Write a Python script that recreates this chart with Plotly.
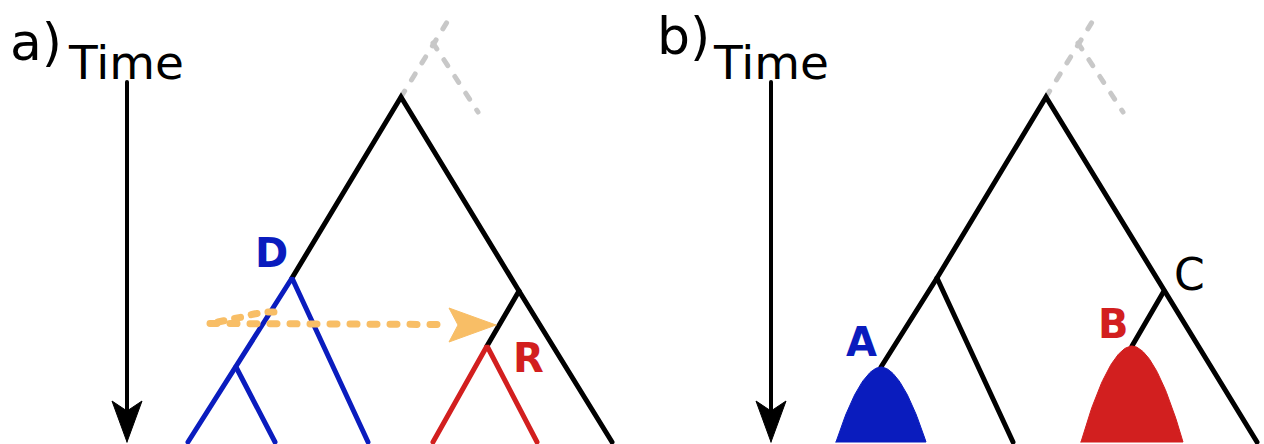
import numpy as np
import plotly.graph_objects as go

W, H = 1264, 444

# ---- tree geometry (panel a); x = horizontal position, t = time (downwards) ----
node_ids = ["root", "D", "Ds", "L1", "L2", "L3", "C", "R", "L4", "L5", "L6"]
node_x = [401, 292, 236, 188, 275, 368, 519, 487, 433, 537, 612]
node_t = [97, 278, 367, 442, 442, 442, 291, 346, 442, 442, 442]

# faded ancestry above the root
stem_a = ["root", (452, 14)]
stem_b = [(433, 43), (478, 112)]

# horizontal transfer from the donor lineage to the recipient branch
transfer_t = 323
transfer_x0, transfer_x1 = 210, 496
transfer_wiggle_x = [218, 230, 242, 254, 266, 277]
transfer_wiggle_t = [322, 320, 317, 314, 312, 312]

panel_offset = 645
clade_A_halfwidth, clade_B_halfwidth = 45, 51

BLACK = "#000000"
BLUE = "#0A1CBE"
RED = "#D21F1F"
ORANGE = "#F8BE66"
GREY = "#C8C8C8"
FONT = "DejaVu Sans"

pos = {n: (x, t) for n, x, t in zip(node_ids, node_x, node_t)}


def pt(p, dx=0):
    if isinstance(p, str):
        x, t = pos[p]
    else:
        x, t = p
    return x + dx, t


fig = go.Figure()


def path(nodes, color, width=5, dx=0, dash=None):
    xs, ys = zip(*[pt(n, dx) for n in nodes])
    fig.add_trace(go.Scatter(
        x=list(xs), y=list(ys), mode="lines",
        line=dict(color=color, width=width, dash=dash),
        hoverinfo="skip", showlegend=False))


def polygon(xs, ys, color):
    fig.add_trace(go.Scatter(
        x=list(xs), y=list(ys), mode="lines", fill="toself",
        fillcolor=color, line=dict(color=color, width=1),
        hoverinfo="skip", showlegend=False))


def time_arrow(x):
    path([(x, 82), (x, 412)], BLACK, width=4)
    polygon([x, x - 15, x, x + 15, x], [442, 401, 411, 401, 442], BLACK)


def clade(top, halfwidth, color, dx):
    cx, ct = pt(top, dx)
    u = np.linspace(-1, 1, 81)
    xs = cx + halfwidth * u
    ys = ct + (442 - ct) * np.abs(u) ** 1.85
    polygon(np.append(xs, xs[0]), np.append(ys, ys[0]), color)


# ---------------- panel a ----------------
grey_dash = "7px,13px"
path(stem_a, GREY, 5, dash=grey_dash)
path(stem_b, GREY, 5, dash=grey_dash)
path(["D", "root", "C", "L6"], BLACK)
path(["C", "R"], BLACK)
path(["L1", "Ds", "D", "L3"], BLUE)
path(["Ds", "L2"], BLUE)
path(["L4", "R", "L5"], RED)

# transfer arrow
path([(transfer_x0, transfer_t + 0.5), (transfer_x1 - 50, transfer_t + 1.5)],
     ORANGE, 7, dash="7px,13px")
path(list(zip(transfer_wiggle_x, transfer_wiggle_t)), ORANGE, 7, dash="6px,11px")
polygon([transfer_x1, transfer_x1 - 47, transfer_x1 - 38, transfer_x1 - 47, transfer_x1],
        [transfer_t + 2, transfer_t - 15, transfer_t + 2, transfer_t + 19, transfer_t + 2],
        ORANGE)

time_arrow(127)

# ---------------- panel b ----------------
dx = panel_offset
path(stem_a, GREY, 5, dx=dx, dash=grey_dash)
path(stem_b, GREY, 5, dx=dx, dash=grey_dash)
path(["Ds", "D", "root", "C", "L6"], BLACK, dx=dx)
path(["D", "L3"], BLACK, dx=dx)
path(["C", "R"], BLACK, dx=dx)
clade("Ds", clade_A_halfwidth, BLUE, dx)
clade("R", clade_B_halfwidth, RED, dx)

time_arrow(127 + dx - 1)

# ---------------- labels ----------------
labels = [
    ("a)", 8, 42, 52, BLACK, False, "left"),
    ("Time", 66, 62, 47, BLACK, False, "left"),
    ("b)", 655, 36, 52, BLACK, False, "left"),
    ("Time", 711, 62, 47, BLACK, False, "left"),
    ("D", 271, 253, 40, BLUE, True, "center"),
    ("R", 528, 358, 40, RED, True, "center"),
    ("A", 861, 342, 40, BLUE, True, "center"),
    ("B", 1113, 324, 40, RED, True, "center"),
    ("C", 1189, 274, 44, BLACK, False, "center"),
]
for text, x, y, size, color, bold, anchor in labels:
    fig.add_annotation(
        x=x, y=y, xref="x", yref="y", showarrow=False,
        text=f"<b>{text}</b>" if bold else text,
        xanchor=anchor, yanchor="middle",
        font=dict(family=FONT, size=size, color=color))

fig.update_layout(
    width=W, height=H,
    margin=dict(l=0, r=0, t=0, b=0),
    paper_bgcolor="white", plot_bgcolor="white",
    xaxis=dict(range=[0, W], visible=False, fixedrange=True),
    yaxis=dict(range=[H, 0], visible=False, fixedrange=True),
    showlegend=False,
)

round_caps = (
    "var gd=document.getElementById('{plot_id}');"
    "gd.querySelectorAll('path.js-line').forEach(function(p){"
    "p.style.strokeLinecap='round';});"
)
fig.write_html("out.html", post_script=round_caps,
               config={"displayModeBar": False, "staticPlot": True})
